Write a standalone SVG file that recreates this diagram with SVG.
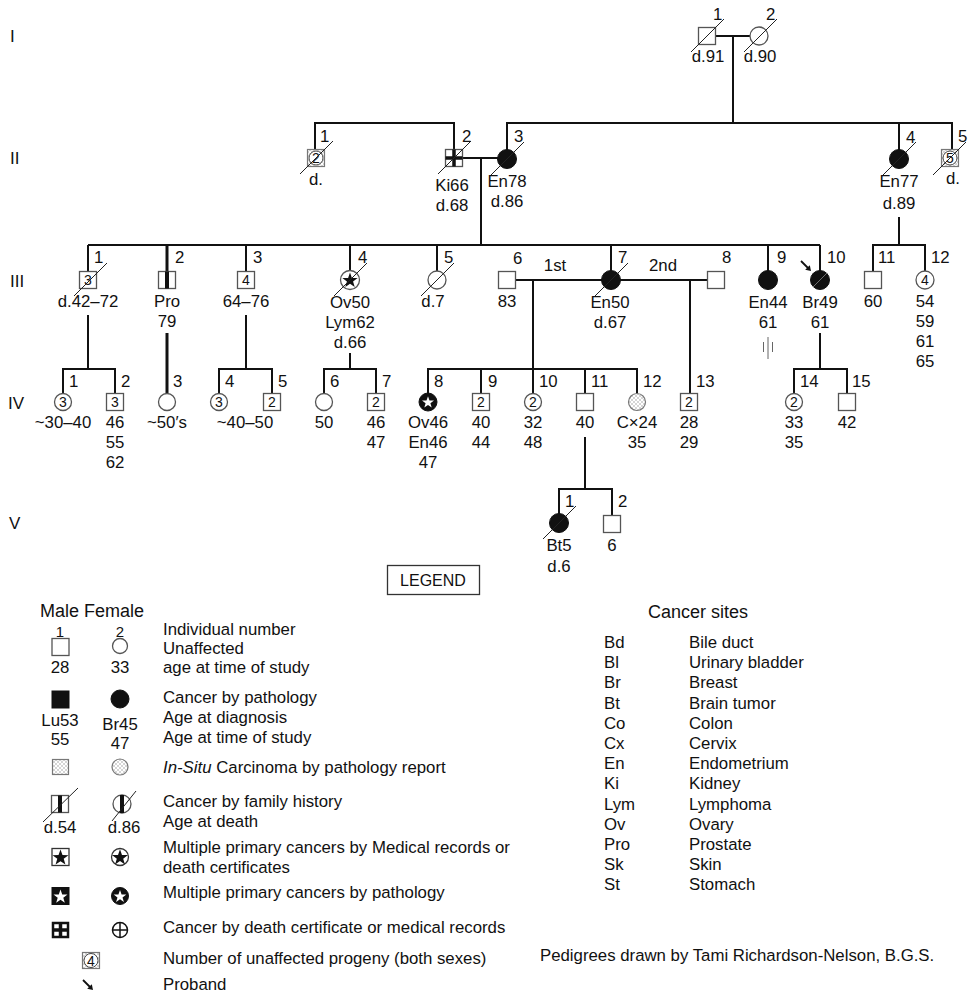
<svg xmlns="http://www.w3.org/2000/svg" xmlns:xlink="http://www.w3.org/1999/xlink" width="969" height="994" viewBox="0 0 969 994">
<style>
text{font-family:"Liberation Sans",Arial,sans-serif;font-size:16.8px;fill:#111}
.c{text-anchor:middle}
.n{font-size:14px;text-anchor:middle}
.g{font-size:17px}
.ln{stroke:#111;stroke-width:2;fill:none}
.thk{stroke:#111;stroke-width:3;fill:none}
.sym{fill:#fff;stroke:#555;stroke-width:1.3}
.aff{fill:#111;stroke:#111;stroke-width:1}
.hat{fill:url(#hatch);stroke:#777;stroke-width:1.2}
.sl{stroke:#222;stroke-width:1}
.thin{stroke:#666;stroke-width:1;fill:none}
</style>
<defs>
<pattern id="hatch" width="4" height="4" patternUnits="userSpaceOnUse"><rect width="4" height="4" fill="#fff"/><path d="M0,0 L4,4 M4,0 L0,4" stroke="#aaa" stroke-width="0.5"/></pattern>
<line id="slash" class="sl" x1="-16" y1="16" x2="17" y2="-17"/>
<path id="star" d="M0,-7 L1.65,-2.27 L6.66,-2.16 L2.66,0.87 L4.11,5.66 L0,2.8 L-4.11,5.66 L-2.66,0.87 L-6.66,-2.16 L-1.65,-2.27 Z"/>
<g id="arrow"><line x1="-5" y1="-5" x2="2" y2="2" stroke="#111" stroke-width="1.8"/><polygon points="5,5 -0.8,3.8 3.8,-0.8" fill="#111"/></g>
</defs>
<rect width="969" height="994" fill="#fff"/>

<!-- generation labels -->
<g id="gen-labels">
<text class="g" x="10" y="42">I</text>
<text class="g" x="10" y="164">II</text>
<text class="g" x="10" y="287">III</text>
<text class="g" x="8" y="409">IV</text>
<text class="g" x="9" y="529">V</text>
</g>

<!-- connectors -->
<g id="connectors">
<line class="ln" x1="716" y1="36" x2="750" y2="36"/>
<line class="ln" x1="733" y1="36" x2="733" y2="123"/>
<polyline class="ln" points="315,149 315,123 454,123 454,149"/>
<polyline class="ln" points="507,150 507,123 952,123 952,149"/>
<line class="ln" x1="899" y1="123" x2="899" y2="150"/>
<line class="ln" x1="463" y1="158" x2="498" y2="158"/>
<line class="ln" x1="481" y1="158" x2="481" y2="245"/>
<line class="ln" x1="899" y1="217" x2="899" y2="245"/>
<polyline class="ln" points="873,272 873,245 925,245 925,271"/>
<line class="ln" x1="88" y1="245" x2="820" y2="245"/>
<line class="ln" x1="88" y1="245" x2="88" y2="272"/>
<line class="thk" x1="167" y1="245" x2="167" y2="289"/>
<line class="ln" x1="246" y1="245" x2="246" y2="272"/>
<line class="ln" x1="350" y1="245" x2="350" y2="271"/>
<line class="ln" x1="437" y1="245" x2="437" y2="271"/>
<line class="ln" x1="611" y1="245" x2="611" y2="271"/>
<line class="ln" x1="768" y1="245" x2="768" y2="271"/>
<line class="ln" x1="820" y1="245" x2="820" y2="271"/>
<line class="ln" x1="516" y1="280" x2="602" y2="280"/>
<line class="ln" x1="620" y1="280" x2="707" y2="280"/>
<line class="ln" x1="533" y1="280" x2="533" y2="369"/>
<line class="ln" x1="690" y1="280" x2="690" y2="394"/>
<line class="ln" x1="88" y1="315" x2="88" y2="369"/>
<line class="thk" x1="167" y1="333" x2="167" y2="393"/>
<line class="ln" x1="246" y1="315" x2="246" y2="369"/>
<line class="ln" x1="350" y1="353" x2="350" y2="369"/>
<line class="ln" x1="820" y1="333" x2="820" y2="369"/>
<polyline class="ln" points="63,394 63,369 115,369 115,394"/>
<polyline class="ln" points="219,394 219,369 272,369 272,394"/>
<polyline class="ln" points="324,394 324,369 376,369 376,394"/>
<polyline class="ln" points="428,394 428,369 637,369 637,394"/>
<line class="ln" x1="481" y1="369" x2="481" y2="394"/>
<line class="ln" x1="533" y1="369" x2="533" y2="394"/>
<line class="ln" x1="585" y1="369" x2="585" y2="394"/>
<polyline class="ln" points="794,394 794,369 847,369 847,394"/>
<line class="ln" x1="585" y1="437" x2="585" y2="489"/>
<polyline class="ln" points="559,514 559,489 612,489 612,516"/>
</g>

<!-- Generation I -->
<g id="I-1">
<rect class="sym" x="698.5" y="27.5" width="17" height="17"/>
<use xlink:href="#slash" x="707" y="36"/>
<text x="713" y="20">1</text>
<text class="c" x="708" y="62">d.91</text>
</g>
<g id="I-2">
<circle class="sym" cx="759" cy="36" r="9"/>
<use xlink:href="#slash" x="760" y="36"/>
<text x="766" y="20">2</text>
<text class="c" x="760" y="62">d.90</text>
</g>

<!-- Generation II -->
<g id="II-1">
<rect class="hat" x="307.5" y="149.5" width="17" height="17"/>
<circle cx="316" cy="158" r="7" fill="#fff" stroke="#444" stroke-width="1"/>
<text class="n" x="316" y="163">2</text>
<use xlink:href="#slash" x="316" y="158"/>
<text x="320" y="142">1</text>
<text class="c" x="316" y="185">d.</text>
</g>
<g id="II-2">
<rect class="sym" x="445.5" y="149.5" width="17" height="17"/>
<line x1="454" y1="149.5" x2="454" y2="166.5" stroke="#111" stroke-width="3.5"/>
<line x1="445.5" y1="158" x2="462.5" y2="158" stroke="#111" stroke-width="3.5"/>
<use xlink:href="#slash" x="454" y="158"/>
<text x="462" y="142">2</text>
<text class="c" x="452" y="191">Ki66</text>
<text class="c" x="452" y="211">d.68</text>
</g>
<g id="II-3">
<circle class="aff" cx="507" cy="159" r="9.5"/>
<use xlink:href="#slash" x="507" y="159"/>
<text x="514" y="142">3</text>
<text class="c" x="507" y="187">En78</text>
<text class="c" x="507" y="207">d.86</text>
</g>
<g id="II-4">
<circle class="aff" cx="899" cy="159" r="9.5"/>
<use xlink:href="#slash" x="899" y="159"/>
<text x="906" y="143">4</text>
<text class="c" x="899" y="187">En77</text>
<text class="c" x="899" y="209">d.89</text>
</g>
<g id="II-5">
<rect class="hat" x="941.5" y="149.5" width="17" height="17"/>
<circle cx="950" cy="158" r="7" fill="#fff" stroke="#444" stroke-width="1"/>
<text class="n" x="950" y="163">5</text>
<use xlink:href="#slash" x="949" y="159"/>
<text x="958" y="142">5</text>
<text class="c" x="953" y="184">d.</text>
</g>

<!-- Generation III -->
<g id="III-1">
<rect class="sym" x="79.5" y="271.5" width="17" height="17"/>
<text class="n" x="88" y="285">3</text>
<use xlink:href="#slash" x="90" y="280"/>
<text x="94" y="263">1</text>
<text class="c" x="88" y="307">d.42–72</text>
</g>
<g id="III-2">
<rect class="sym" x="158.5" y="271.5" width="17" height="17"/>
<line x1="167" y1="271.5" x2="167" y2="288.5" stroke="#111" stroke-width="4"/>
<text x="175" y="263">2</text>
<text class="c" x="167" y="307">Pro</text>
<text class="c" x="167" y="327">79</text>
</g>
<g id="III-3">
<rect class="sym" x="237.5" y="271.5" width="17" height="17"/>
<text class="n" x="246" y="285">4</text>
<text x="253" y="263">3</text>
<text class="c" x="246" y="307">64–76</text>
</g>
<g id="III-4">
<circle class="sym" cx="350" cy="280" r="9.5"/>
<use xlink:href="#star" transform="translate(350,280.5) scale(1.15)" fill="#111"/>
<use xlink:href="#slash" x="350" y="280"/>
<text x="358" y="263">4</text>
<text class="c" x="350" y="308">Ov50</text>
<text class="c" x="350" y="328">Lym62</text>
<text class="c" x="350" y="348">d.66</text>
</g>
<g id="III-5">
<circle class="sym" cx="437" cy="280" r="9"/>
<use xlink:href="#slash" x="437" y="280"/>
<text x="444" y="263">5</text>
<text class="c" x="433" y="307">d.7</text>
</g>
<g id="III-6">
<rect class="sym" x="498.5" y="271.5" width="17" height="17"/>
<text x="513" y="264">6</text>
<text class="c" x="507" y="307">83</text>
<text class="c" x="555" y="271">1st</text>
</g>
<g id="III-7">
<circle class="aff" cx="611" cy="280" r="9.5"/>
<use xlink:href="#slash" x="611" y="280"/>
<text x="618" y="263">7</text>
<text class="c" x="610" y="308">En50</text>
<text class="c" x="610" y="328">d.67</text>
<text class="c" x="663" y="271">2nd</text>
</g>
<g id="III-8">
<rect class="sym" x="707.5" y="271.5" width="17" height="17"/>
<text x="722" y="263">8</text>
</g>
<g id="III-9">
<circle class="aff" cx="768" cy="280" r="9.5"/>
<text x="777" y="263">9</text>
<text class="c" x="768" y="308">En44</text>
<text class="c" x="768" y="328">61</text>
<line class="thin" x1="768" y1="337" x2="768" y2="359"/>
<line class="thin" x1="763.5" y1="342" x2="763.5" y2="352"/>
<line class="thin" x1="772.5" y1="342" x2="772.5" y2="352"/>
</g>
<g id="III-10">
<circle class="aff" cx="820" cy="280" r="9.5"/>
<line x1="813" y1="287" x2="827" y2="273" stroke="#888" stroke-width="0.8"/>
<use xlink:href="#arrow" x="806" y="266"/>
<text x="827" y="263">10</text>
<text class="c" x="820" y="308">Br49</text>
<text class="c" x="820" y="328">61</text>
</g>
<g id="III-11">
<rect class="sym" x="864.5" y="271.5" width="17" height="17"/>
<text x="878" y="263">11</text>
<text class="c" x="873" y="307">60</text>
</g>
<g id="III-12">
<circle class="sym" cx="925" cy="280" r="9"/>
<text class="n" x="925" y="285">4</text>
<text x="931" y="263">12</text>
<text class="c" x="925" y="307">54</text>
<text class="c" x="925" y="327">59</text>
<text class="c" x="925" y="347">61</text>
<text class="c" x="925" y="367">65</text>
</g>

<!-- Generation IV -->
<g id="IV-1">
<circle class="sym" cx="63" cy="402" r="8.5"/>
<text class="n" x="63" y="407">3</text>
<text x="69" y="387">1</text>
<text class="c" x="63" y="428">~30–40</text>
</g>
<g id="IV-2">
<rect class="sym" x="106.5" y="393.5" width="17" height="17"/>
<text class="n" x="115" y="407">3</text>
<text x="121" y="387">2</text>
<text class="c" x="115" y="428">46</text>
<text class="c" x="115" y="448">55</text>
<text class="c" x="115" y="468">62</text>
</g>
<g id="IV-3">
<circle class="sym" cx="167" cy="402" r="8.5"/>
<text x="173" y="387">3</text>
<text class="c" x="167" y="428">~50′s</text>
</g>
<g id="IV-4">
<circle class="sym" cx="219" cy="402" r="8.5"/>
<text class="n" x="219" y="407">3</text>
<text x="225" y="387">4</text>
<text class="c" x="245" y="428">~40–50</text>
</g>
<g id="IV-5">
<rect class="sym" x="263.5" y="393.5" width="17" height="17"/>
<text class="n" x="272" y="407">2</text>
<text x="278" y="387">5</text>
</g>
<g id="IV-6">
<circle class="sym" cx="324" cy="402" r="8.5"/>
<text x="330" y="387">6</text>
<text class="c" x="324" y="428">50</text>
</g>
<g id="IV-7">
<rect class="sym" x="367.5" y="393.5" width="17" height="17"/>
<text class="n" x="376" y="407">2</text>
<text x="382" y="387">7</text>
<text class="c" x="376" y="428">46</text>
<text class="c" x="376" y="448">47</text>
</g>
<g id="IV-8">
<circle class="aff" cx="428" cy="402" r="9"/>
<use xlink:href="#star" transform="translate(428,402.5) scale(0.9)" fill="#fff"/>
<text x="434" y="387">8</text>
<text class="c" x="428" y="428">Ov46</text>
<text class="c" x="428" y="448">En46</text>
<text class="c" x="428" y="468">47</text>
</g>
<g id="IV-9">
<rect class="sym" x="472.5" y="393.5" width="17" height="17"/>
<text class="n" x="481" y="407">2</text>
<text x="488" y="387">9</text>
<text class="c" x="481" y="428">40</text>
<text class="c" x="481" y="448">44</text>
</g>
<g id="IV-10">
<circle class="sym" cx="533" cy="402" r="8.5"/>
<text class="n" x="533" y="407">2</text>
<text x="539" y="387">10</text>
<text class="c" x="533" y="428">32</text>
<text class="c" x="533" y="448">48</text>
</g>
<g id="IV-11">
<rect class="sym" x="576.5" y="393.5" width="17" height="17"/>
<text x="591" y="387">11</text>
<text class="c" x="585" y="428">40</text>
</g>
<g id="IV-12">
<circle class="hat" cx="637" cy="402" r="8.5"/>
<text x="643" y="387">12</text>
<text class="c" x="637" y="428">C×24</text>
<text class="c" x="637" y="448">35</text>
</g>
<g id="IV-13">
<rect class="sym" x="680.5" y="393.5" width="17" height="17"/>
<text class="n" x="689" y="407">2</text>
<text x="696" y="387">13</text>
<text class="c" x="689" y="428">28</text>
<text class="c" x="689" y="448">29</text>
</g>
<g id="IV-14">
<circle class="sym" cx="794" cy="402" r="8.5"/>
<text class="n" x="794" y="407">2</text>
<text x="800" y="387">14</text>
<text class="c" x="794" y="428">33</text>
<text class="c" x="794" y="448">35</text>
</g>
<g id="IV-15">
<rect class="sym" x="838.5" y="393.5" width="17" height="17"/>
<text x="852" y="387">15</text>
<text class="c" x="847" y="428">42</text>
</g>

<!-- Generation V -->
<g id="V-1">
<circle class="aff" cx="559" cy="523" r="9.5"/>
<use xlink:href="#slash" x="559" y="523"/>
<text x="565" y="507">1</text>
<text class="c" x="559" y="551">Bt5</text>
<text class="c" x="559" y="572">d.6</text>
</g>
<g id="V-2">
<rect class="sym" x="603.5" y="515.5" width="17" height="17"/>
<text x="618" y="507">2</text>
<text class="c" x="612" y="551">6</text>
</g>

<!-- Legend -->
<g id="legend-title">
<rect x="387.5" y="565.5" width="92" height="29" fill="#fff" stroke="#333" stroke-width="1.3"/>
<text class="c" x="433" y="586" style="font-size:16px">LEGEND</text>
</g>
<g id="legend">
<text x="40" y="617" style="font-size:18px">Male Female</text>
<text class="c" x="60" y="637" style="font-size:15px">1</text>
<text class="c" x="120" y="637" style="font-size:15px">2</text>
<rect class="sym" x="52" y="638.5" width="17" height="17"/>
<circle class="sym" cx="120" cy="646" r="7.5"/>
<text class="c" x="60" y="673">28</text>
<text class="c" x="120" y="673">33</text>
<text x="163" y="635">Individual number</text>
<text x="163" y="654">Unaffected</text>
<text x="163" y="673">age at time of study</text>

<rect class="aff" x="52" y="691" width="17" height="17"/>
<circle class="aff" cx="120" cy="699" r="9"/>
<text class="c" x="60" y="726">Lu53</text>
<text class="c" x="120" y="730">Br45</text>
<text class="c" x="60" y="745">55</text>
<text class="c" x="120" y="749">47</text>
<text x="163" y="703">Cancer by pathology</text>
<text x="163" y="723">Age at diagnosis</text>
<text x="163" y="743">Age at time of study</text>

<rect class="hat" x="52.5" y="759.5" width="16" height="15"/>
<circle class="hat" cx="120" cy="767" r="8"/>
<text x="163" y="773"><tspan font-style="italic">In-Situ</tspan> Carcinoma by pathology report</text>

<rect class="sym" x="51.5" y="795.5" width="17" height="17"/>
<line x1="60" y1="795.5" x2="60" y2="812.5" stroke="#111" stroke-width="4"/>
<line class="sl" x1="43" y1="822" x2="78" y2="788"/>
<circle class="sym" cx="122" cy="804" r="9"/>
<line x1="122" y1="795" x2="122" y2="813" stroke="#111" stroke-width="4"/>
<line class="sl" x1="112" y1="821" x2="136" y2="791"/>
<text class="c" x="60" y="833">d.54</text>
<text class="c" x="124" y="833">d.86</text>
<text x="163" y="807">Cancer by family history</text>
<text x="163" y="827">Age at death</text>

<rect class="sym" x="52" y="848.5" width="17" height="17" style="stroke:#333"/>
<use xlink:href="#star" transform="translate(60.5,857.8) scale(1.2)" fill="#111"/>
<circle class="sym" cx="120" cy="857" r="8.5" style="stroke:#333"/>
<use xlink:href="#star" transform="translate(120,857.6) scale(1.2)" fill="#111"/>
<text x="163" y="853">Multiple primary cancers by Medical records or</text>
<text x="163" y="873">death certificates</text>

<rect class="aff" x="52" y="887.5" width="17" height="17"/>
<use xlink:href="#star" transform="translate(60.5,896.8) scale(1.05)" fill="#fff"/>
<circle class="aff" cx="120" cy="896" r="8.5"/>
<use xlink:href="#star" transform="translate(120,896.6) scale(0.95)" fill="#fff"/>
<text x="163" y="898">Multiple primary cancers by pathology</text>

<rect x="53" y="923" width="15" height="14" fill="#fff" stroke="#111" stroke-width="2.5"/>
<line x1="60.5" y1="923" x2="60.5" y2="937" stroke="#111" stroke-width="3.5"/>
<line x1="53" y1="930" x2="68" y2="930" stroke="#111" stroke-width="3.5"/>
<circle cx="120" cy="930" r="7.5" fill="#fff" stroke="#111" stroke-width="1.5"/>
<line x1="120" y1="922.5" x2="120" y2="937.5" stroke="#111" stroke-width="1.5"/>
<line x1="112.5" y1="930" x2="127.5" y2="930" stroke="#111" stroke-width="1.5"/>
<text x="163" y="933">Cancer by death certificate or medical records</text>

<rect class="hat" x="82.5" y="952.5" width="17" height="16"/>
<circle cx="91" cy="960.5" r="7" fill="#fff" stroke="#444" stroke-width="1"/>
<text class="n" x="91" y="965.5">4</text>
<text x="163" y="964">Number of unaffected progeny (both sexes)</text>

<use xlink:href="#arrow" x="88" y="985"/>
<text x="163" y="990">Proband</text>
</g>

<g id="cancer-sites">
<text x="648" y="618" style="font-size:18px">Cancer sites</text>
<text x="604" y="648">Bd</text><text x="689" y="648">Bile duct</text>
<text x="604" y="668">Bl</text><text x="689" y="668">Urinary bladder</text>
<text x="604" y="688">Br</text><text x="689" y="688">Breast</text>
<text x="604" y="709">Bt</text><text x="689" y="709">Brain tumor</text>
<text x="604" y="729">Co</text><text x="689" y="729">Colon</text>
<text x="604" y="749">Cx</text><text x="689" y="749">Cervix</text>
<text x="604" y="769">En</text><text x="689" y="769">Endometrium</text>
<text x="604" y="789">Ki</text><text x="689" y="789">Kidney</text>
<text x="604" y="810">Lym</text><text x="689" y="810">Lymphoma</text>
<text x="604" y="830">Ov</text><text x="689" y="830">Ovary</text>
<text x="604" y="850">Pro</text><text x="689" y="850">Prostate</text>
<text x="604" y="870">Sk</text><text x="689" y="870">Skin</text>
<text x="604" y="890">St</text><text x="689" y="890">Stomach</text>
</g>
<g id="credit">
<text x="540" y="961">Pedigrees drawn by Tami Richardson-Nelson, B.G.S.</text>
</g>
</svg>
